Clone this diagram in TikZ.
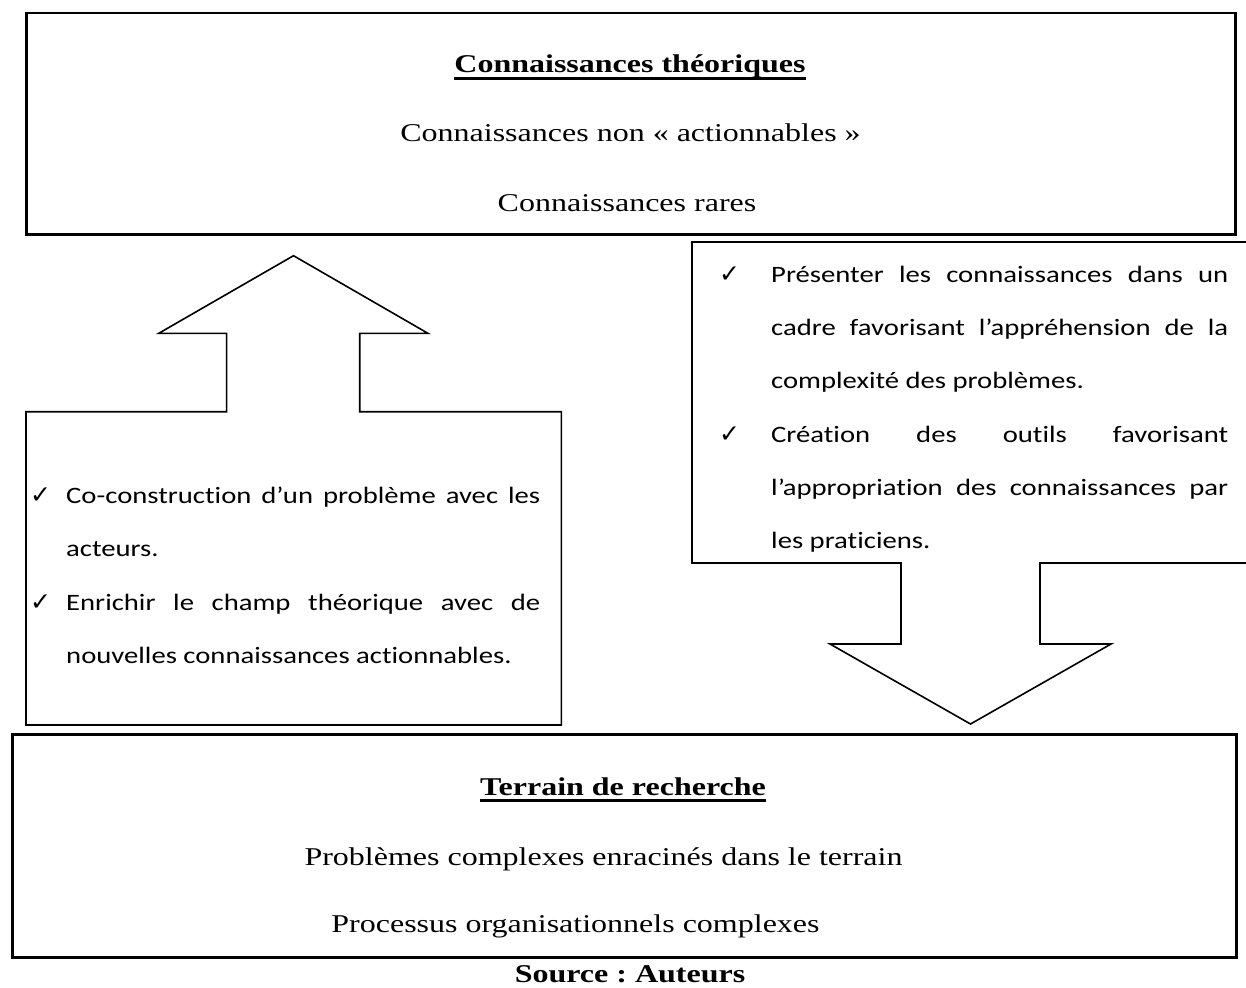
\documentclass[tikz,border=0pt]{standalone}
\usepackage{fontspec}
\newfontfamily\tnr{Liberation Serif}[FakeStretch=1.25]
\newfontfamily\calfont{Carlito}[FakeStretch=1.22, Ligatures=CommonOff]
\newfontfamily\checkfont{DejaVu Sans}
\setlength{\parindent}{0pt}
\frenchspacing
\newcommand\chk[1]{\leavevmode\llap{\makebox[#1][l]{\checkfont\fontsize{25}{25}\selectfont ✓}}}
\tikzset{
  bigbox/.style={draw, line width=2.5pt, inner sep=0pt, anchor=north west},
  callout/.style={draw, line width=1.6pt, line join=miter},
  serif/.style={font=\tnr\fontsize{25.6}{30}\selectfont, inner sep=0pt, anchor=base},
  head/.style={serif, font=\tnr\bfseries\fontsize{25.6}{30}\selectfont},
  uline/.style={line width=3pt},
  bullets/.style={font=\calfont\fontsize{23.5}{53.3}\selectfont, inner sep=0pt, anchor=north west, align=justify}
}
\begin{document}
\begin{tikzpicture}[x=1pt,y=-1pt]
\useasboundingbox (0,0) rectangle (1246,987);

% top box
\node[bigbox, minimum width=1209pt, minimum height=221pt] (top) at (25,12) {};
\node[head] (t1) at (630,73) {Connaissances théoriques};
\draw[uline] ([yshift=-6pt]t1.base west) -- ([yshift=-6pt]t1.base east);
\node[serif] (t2) at (630.5,142) {Connaissances non «~actionnables~»};
\node[serif] (t3) at (627,211.5) {Connaissances rares};

% left callout (up arrow)
\draw[callout] (26,411.7) -- (226.6,411.7) -- (226.6,333.3) -- (158.8,333.3)
  -- (293.5,255.7) -- (427.9,333.3) -- (359.7,333.3) -- (359.7,411.7)
  -- (561.4,411.7) -- (561.4,725) -- (26,725) -- cycle;
\node[bullets, text width=474pt] (lt) at (66,473.3)
  {\chk{36pt}\rule{0pt}{30pt}Co-construction d’un problème avec les\linebreak acteurs.\par
   \chk{36pt}Enrichir le champ théorique avec de\linebreak nouvelles connaissances actionnables.\par};

% right callout (down arrow)
\draw[callout] (692,242) -- (1252,242) -- (1252,563) -- (1040,563) -- (1040,644)
  -- (1111,644) -- (970.5,724) -- (830,644) -- (901,644) -- (901,563)
  -- (692,563) -- cycle;
\node[bullets, text width=457pt] (rt) at (771,252)
  {\chk{52pt}\rule{0pt}{30pt}Présenter les connaissances dans un\linebreak cadre favorisant l’appréhension de la\linebreak complexité des problèmes.\par
   \chk{52pt}Création des outils favorisant\linebreak l’appropriation des connaissances par\linebreak les praticiens.\par};

% bottom box
\node[bigbox, minimum width=1224pt, minimum height=223pt] (bot) at (11,733) {};
\node[head] (b1) at (623,795) {Terrain de recherche};
\draw[uline] ([yshift=-5pt]b1.base west) -- ([yshift=-5pt]b1.base east);
\node[serif] (b2) at (603.5,865) {Problèmes complexes enracinés dans le terrain};
\node[serif] (b3) at (575.5,932) {Processus organisationnels complexes};

% source
\node[head] (src) at (630,982) {Source : Auteurs};
\end{tikzpicture}
\end{document}
